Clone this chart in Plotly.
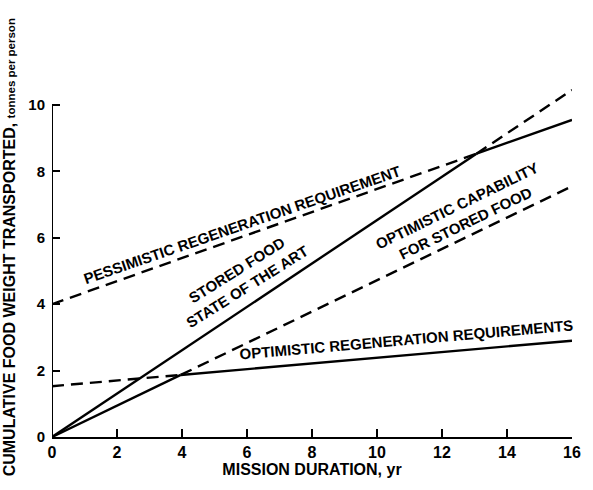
import numpy as np
import plotly.graph_objects as go

# Mission duration span (years)
x_start, x_end = 0.0, 16.0

# Cumulative food weight (tonnes per person) at start and end of the span
stored_soa = [0.0, 10.45]          # stored food, state of the art
pessimistic_regen = [4.0, 9.55]    # pessimistic regeneration requirement
optimistic_stored = [0.0, 7.55]    # optimistic capability for stored food
optimistic_regen = [1.53, 2.9]     # optimistic regeneration requirements

x_ticks = [0, 2, 4, 6, 8, 10, 12, 14, 16]
y_ticks = [0, 2, 4, 6, 8, 10]

FONT = "Liberation Sans"
LW = 2.4
DASH = "12px,7px"


def line_at(ends, x):
    return ends[0] + (ends[1] - ends[0]) * (x - x_start) / (x_end - x_start)


def crossing(a, b):
    sa = (a[1] - a[0]) / (x_end - x_start)
    sb = (b[1] - b[0]) / (x_end - x_start)
    return x_start + (b[0] - a[0]) / (sa - sb)


fig = go.Figure()


def add_pair(a, b):
    # the lower of the two options is drawn solid, the higher one dashed
    xc = crossing(a, b)
    for ends, other in ((a, b), (b, a)):
        seg1 = np.array([x_start, xc])
        seg2 = np.array([xc, x_end])
        lower_first = line_at(ends, x_start) <= line_at(other, x_start)
        for xs, solid in ((seg1, lower_first), (seg2, not lower_first)):
            fig.add_trace(go.Scatter(
                x=xs, y=line_at(ends, xs), mode="lines",
                line=dict(color="black", width=LW, dash="solid" if solid else DASH),
                hoverinfo="skip", showlegend=False))


add_pair(stored_soa, pessimistic_regen)
add_pair(optimistic_stored, optimistic_regen)

# y axis line only up to 10
fig.add_shape(type="line", x0=0, x1=0, y0=0, y1=10, xref="x", yref="y",
              line=dict(color="black", width=2))

label_font = dict(family=FONT, size=15, color="black")
labels = [
    ("PESSIMISTIC REGENERATION REQUIREMENT", 5.86, 6.4, -19),
    ("STORED FOOD<br>STATE OF THE ART", 5.85, 4.76, -32),
    ("OPTIMISTIC CAPABILITY<br>FOR STORED FOOD", 12.6, 6.69, -26),
    ("OPTIMISTIC REGENERATION REQUIREMENTS", 10.9, 2.93, -5),
]
for text, lx, ly, ang in labels:
    fig.add_annotation(x=lx, y=ly, xref="x", yref="y", text="<b>" + text + "</b>",
                       showarrow=False, textangle=ang, font=label_font,
                       align="center")

fig.add_annotation(
    x=-0.08, y=0.54, xref="paper", yref="paper", textangle=-90,
    text="<b>CUMULATIVE FOOD WEIGHT TRANSPORTED, "
         "<span style='font-size:11.5px'>tonnes per person</span></b>",
    showarrow=False, font=dict(family=FONT, size=16, color="black"),
    xanchor="center", yanchor="middle")

fig.update_layout(
    width=593, height=490,
    margin=dict(l=52, r=13, t=85, b=53),
    paper_bgcolor="white", plot_bgcolor="white",
    xaxis=dict(range=[x_start, x_end], tickvals=x_ticks,
               ticktext=[f"<b>{v}</b>" for v in x_ticks],
               ticks="inside", ticklen=8, tickwidth=2, tickcolor="black",
               showline=True, linecolor="black", linewidth=2,
               showgrid=False, zeroline=False,
               tickfont=dict(family=FONT, size=16, color="black"),
               title=dict(text="<b>MISSION DURATION, yr</b>",
                          font=dict(family=FONT, size=16, color="black"),
                          standoff=3)),
    yaxis=dict(range=[0, 10.6], tickvals=y_ticks,
               ticktext=[f"<b>{v}</b>" for v in y_ticks],
               ticks="inside", ticklen=8, tickwidth=2, tickcolor="black",
               ticklabelstandoff=6,
               showline=False, showgrid=False, zeroline=False,
               tickfont=dict(family=FONT, size=15, color="black")),
)

fig.write_html("out.html")
